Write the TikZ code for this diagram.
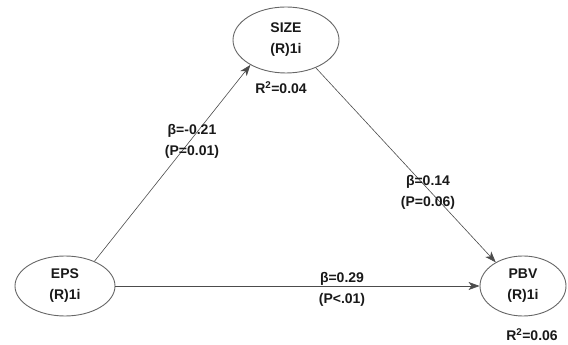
\documentclass[tikz,border=0pt]{standalone}
\usepackage{fontspec}
\setmainfont{Liberation Sans}
\usetikzlibrary{arrows.meta,shapes.geometric}
\begin{document}
\begin{tikzpicture}[x=1pt, y=1pt,
  every node/.style={font=\fontsize{14}{21}\selectfont\bfseries, text=black!90},
  var/.style={ellipse, draw=black!60, line width=0.9pt, inner sep=0pt, align=center},
  link/.style={-{Stealth[length=11pt,width=8pt,inset=3pt]}, draw=black!70, line width=0.6pt},
  coef/.style={align=center, inner sep=1pt}]
  \useasboundingbox (0,0) rectangle (568,345);
  % constructs
  \node[var, minimum width=100pt, minimum height=60pt] (eps) at (65,59) {EPS\\(R)1i};
  \node[var, minimum width=106pt, minimum height=66pt] (size) at (286,305) {SIZE\\(R)1i};
  \node[var, minimum width=86pt, minimum height=60pt] (pbv) at (523,59) {PBV\\(R)1i};
  \node (rsize) at (281,257) {R\textsuperscript{2}=0.04};
  \node (rpbv) at (532,10) {R\textsuperscript{2}=0.06};
  % paths
  \draw[link] (eps.40) -- (size.215);
  \draw[link] (size.-43) -- (pbv.139);
  \draw[link] (eps) -- (pbv);
  % path coefficients
  \node[coef] (c1) at (192,204) {β=-0.21\\(P=0.01)};
  \node[coef] (c2) at (428,153) {β=0.14\\(P=0.06)};
  \node[coef] (c3) at (342,56) {β=0.29\\(P<.01)};
\end{tikzpicture}
\end{document}
